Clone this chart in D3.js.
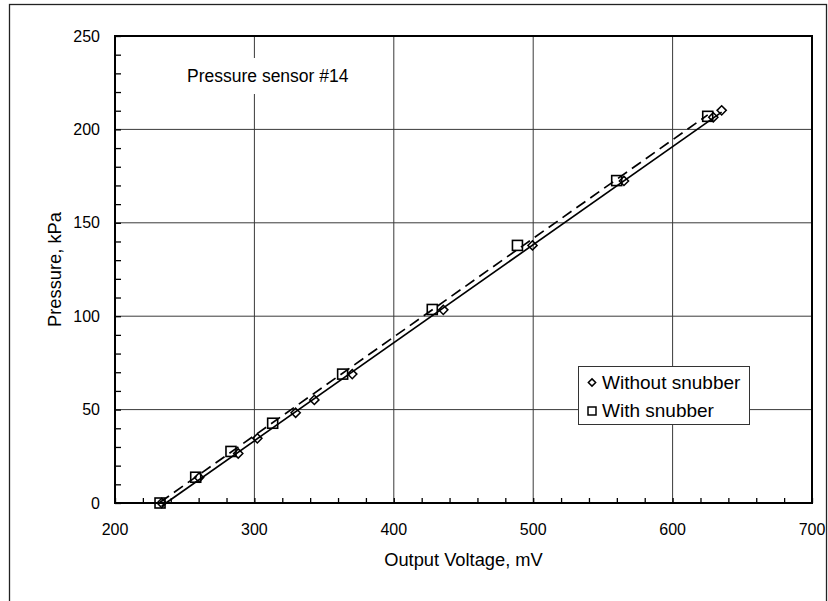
<!DOCTYPE html>
<html>
<head>
<meta charset="utf-8">
<script src="https://cdn.jsdelivr.net/npm/d3@7"></script>
<style>
  body { margin: 0; background: #fff; }
  text { font-family: "Liberation Sans", Arial, sans-serif; fill: #000; }
</style>
</head>
<body>
<svg width="828" height="601"></svg>
<script>
// readings
let noSnubberV = [233.5, 260.3, 288.4, 302.1, 329.6, 343.0, 370.2, 435.5, 499.5, 565.1, 629.2, 635.2]
let noSnubberP = [0, 13.6, 26.5, 34.6, 48.3, 55.2, 69.0, 103.4, 137.9, 172.4, 206.5, 210.2]
let snubberV = [232.3, 257.9, 283.2, 313.1, 363.3, 427.6, 488.7, 559.9, 625.2]
let snubberP = [0, 13.8, 27.6, 42.7, 69.0, 103.6, 137.9, 172.6, 207.0]
let xTicks = [200, 300, 400, 500, 600, 700]
let yTicks = [0, 50, 100, 150, 200, 250]

let width = 828
let height = 601
let margin = { top: 36, bottom: 98, left: 115, right: 16 }

let xScale = d3.scaleLinear()
  .domain([200, 700])
  .range([margin.left, width - margin.right])

let yScale = d3.scaleLinear()
  .domain([0, 250])
  .range([height - margin.bottom, margin.top])

let svg = d3.select('svg')

// outer chart border (bottom edge falls outside the picture)
svg.append('rect')
  .attr('x', 9.5).attr('y', 4.5)
  .attr('width', 817).attr('height', 620)
  .attr('fill', '#fff')
  .attr('stroke', '#222')
  .attr('stroke-width', 1.3)

let x0 = xScale.range()[0], x1 = xScale.range()[1]
let y0 = yScale.range()[0], y1 = yScale.range()[1]

// grid
svg.append('g')
  .selectAll('line')
  .data(xTicks.slice(1, -1))
  .join('line')
  .attr('x1', d => xScale(d)).attr('x2', d => xScale(d))
  .attr('y1', y0).attr('y2', y1)
  .attr('stroke', '#3a3a3a').attr('stroke-width', 1)

svg.append('g')
  .selectAll('line')
  .data(yTicks.slice(1, -1))
  .join('line')
  .attr('x1', x0).attr('x2', x1)
  .attr('y1', d => yScale(d)).attr('y2', d => yScale(d))
  .attr('stroke', '#3a3a3a').attr('stroke-width', 1)

// axes with inside ticks
let xAxis = d3.axisTop(xScale)
  .tickValues(d3.range(200, 701, 20))
  .tickSize(5)
  .tickFormat('')
let yAxis = d3.axisRight(yScale)
  .tickValues(d3.range(0, 251, 10))
  .tickSize(6)
  .tickFormat('')

svg.append('g')
  .attr('transform', 'translate(' + [0, y0] + ')')
  .call(xAxis)
  .call(g => g.select('.domain').remove())
  .selectAll('line').attr('stroke', '#000').attr('stroke-width', 1.3)

svg.append('g')
  .attr('transform', 'translate(' + [x0, 0] + ')')
  .call(yAxis)
  .call(g => g.select('.domain').remove())
  .selectAll('line').attr('stroke', '#000').attr('stroke-width', 1.3)

// plot frame
svg.append('rect')
  .attr('x', x0).attr('y', y1)
  .attr('width', x1 - x0).attr('height', y0 - y1)
  .attr('fill', 'none')
  .attr('stroke', '#000')
  .attr('stroke-width', 2)

// tick labels
svg.append('g')
  .selectAll('text')
  .data(xTicks)
  .join('text')
  .attr('x', d => xScale(d))
  .attr('y', y0 + 32)
  .attr('text-anchor', 'middle')
  .style('font-size', '16px')
  .text(d => d)

svg.append('g')
  .selectAll('text')
  .data(yTicks)
  .join('text')
  .attr('x', x0 - 15)
  .attr('y', d => yScale(d) + 5.5)
  .attr('text-anchor', 'end')
  .style('font-size', '16px')
  .text(d => d)

// axis titles
svg.append('text')
  .attr('x', (x0 + x1) / 2)
  .attr('y', 566)
  .attr('text-anchor', 'middle')
  .style('font-size', '18.3px')
  .text('Output Voltage, mV')

svg.append('text')
  .attr('transform', 'translate(61,' + (y0 + y1) / 2 + ') rotate(-90)')
  .attr('text-anchor', 'middle')
  .style('font-size', '18.3px')
  .text('Pressure, kPa')

// chart label with white box
let label = svg.append('g')
let labelText = label.append('text')
  .attr('x', 187)
  .attr('y', 82)
  .style('font-size', '17.5px')
  .text('Pressure sensor #14')
let bb = labelText.node().getBBox()
label.insert('rect', 'text')
  .attr('x', bb.x - 6).attr('y', 58)
  .attr('width', bb.width + 12).attr('height', 36)
  .attr('fill', '#fff')

// linear trend lines
function fit(xs, ys) {
  let mx = d3.mean(xs), my = d3.mean(ys)
  let sxy = d3.sum(xs, (v, i) => (v - mx) * (ys[i] - my))
  let sxx = d3.sum(xs, v => (v - mx) * (v - mx))
  let b = sxy / sxx
  let a = my - b * mx
  let ext = d3.extent(xs)
  return ext.map(v => ({ v: v, p: a + b * v }))
}

let line = d3.line()
  .x(d => xScale(d.v))
  .y(d => yScale(d.p))

svg.append('path')
  .attr('d', line(fit(noSnubberV, noSnubberP)))
  .attr('fill', 'none')
  .attr('stroke', '#000')
  .attr('stroke-width', 1.7)

svg.append('path')
  .attr('d', line(fit(snubberV, snubberP)))
  .attr('fill', 'none')
  .attr('stroke', '#000')
  .attr('stroke-width', 1.7)
  .attr('stroke-dasharray', '11,6')

// markers
let squares = snubberV.map((v, i) => ({ v: v, p: snubberP[i] }))
let diamonds = noSnubberV.map((v, i) => ({ v: v, p: noSnubberP[i] }))

svg.append('g')
  .selectAll('rect')
  .data(squares)
  .join('rect')
  .attr('x', d => xScale(d.v) - 5)
  .attr('y', d => yScale(d.p) - 5)
  .attr('width', 10).attr('height', 10)
  .attr('fill', 'none')
  .attr('stroke', '#000')
  .attr('stroke-width', 1.6)

let diamond = d3.symbol().type(d3.symbolDiamond2).size(54)
svg.append('g')
  .selectAll('path')
  .data(diamonds)
  .join('path')
  .attr('transform', d => 'translate(' + [xScale(d.v), yScale(d.p)] + ')')
  .attr('d', diamond)
  .attr('fill', 'none')
  .attr('stroke', '#000')
  .attr('stroke-width', 1.5)

// legend
let legend = svg.append('g').attr('transform', 'translate(578,366)')
legend.append('rect')
  .attr('x', 0.5).attr('y', 0.5)
  .attr('width', 171).attr('height', 58)
  .attr('fill', '#fff')
  .attr('stroke', '#333')
  .attr('stroke-width', 1)

legend.append('path')
  .attr('transform', 'translate(14,16.5)')
  .attr('d', d3.symbol().type(d3.symbolDiamond2).size(34))
  .attr('fill', 'none')
  .attr('stroke', '#000')
  .attr('stroke-width', 1.5)
legend.append('text')
  .attr('x', 24).attr('y', 22.5)
  .style('font-size', '19px')
  .text('Without snubber')

legend.append('rect')
  .attr('x', 10).attr('y', 41)
  .attr('width', 8).attr('height', 8)
  .attr('fill', 'none')
  .attr('stroke', '#000')
  .attr('stroke-width', 1.5)
legend.append('text')
  .attr('x', 24).attr('y', 51)
  .style('font-size', '19px')
  .text('With snubber')
</script>
</body>
</html>
